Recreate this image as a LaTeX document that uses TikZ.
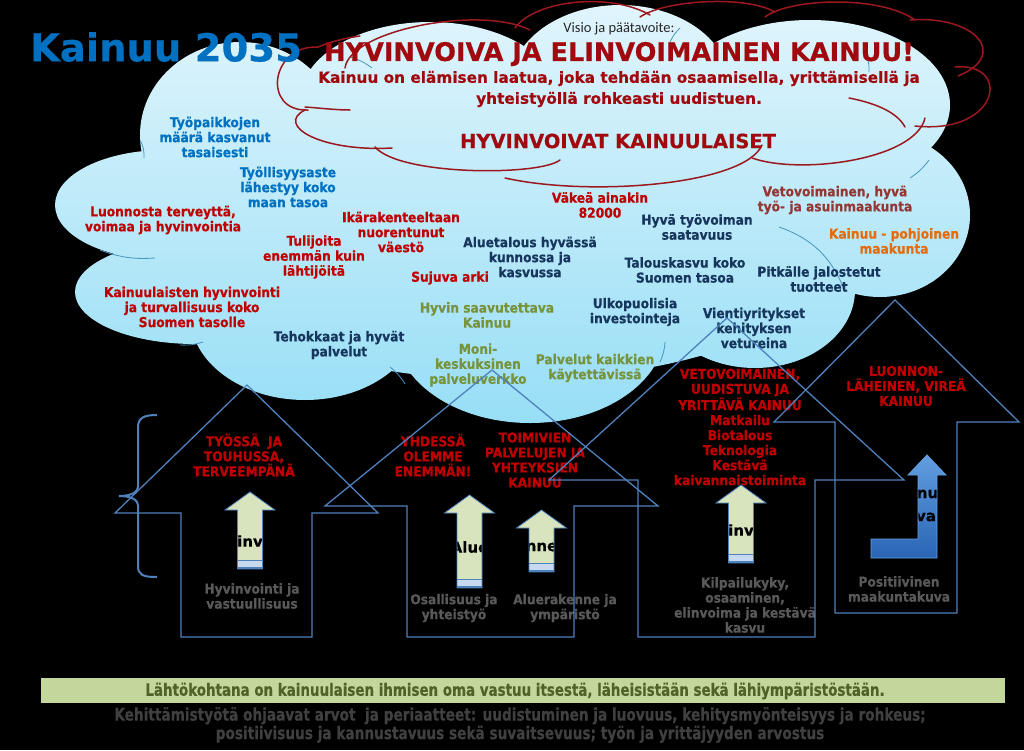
\documentclass[tikz,border=0pt]{standalone}
\usepackage{fontspec}
\setmainfont{DejaVu Sans}[BoldFeatures={FakeBold=0.5}]
\newfontfamily\visiofont{Carlito}
\newfontfamily\boxfont{DejaVu Sans}[FakeStretch=0.9, BoldFeatures={FakeBold=0.5}]
\newfontfamily\narrowfont{DejaVu Sans}[FakeStretch=0.79, BoldFeatures={FakeBold=0.4}]

\definecolor{kblue}{RGB}{0,112,192}
\definecolor{kred}{RGB}{192,0,0}
\definecolor{knavy}{RGB}{23,54,93}
\definecolor{kolive}{RGB}{119,147,60}
\definecolor{kbrown}{RGB}{149,55,53}
\definecolor{korange}{RGB}{228,108,10}
\definecolor{kgray}{RGB}{89,89,89}
\definecolor{kdarkgray}{RGB}{64,64,64}
\definecolor{bubred}{RGB}{155,25,30}
\definecolor{titlered}{RGB}{160,10,15}
\definecolor{cloudtop}{RGB}{225,245,252}
\definecolor{cloudbot}{RGB}{150,222,246}
\definecolor{cloudarc}{RGB}{70,150,190}
\definecolor{hblue}{RGB}{79,129,189}
\definecolor{khaki}{RGB}{215,228,189}
\definecolor{stripepale}{RGB}{198,217,241}
\definecolor{barfill}{RGB}{195,214,155}
\definecolor{bartext}{RGB}{79,98,40}
\definecolor{bluetop}{RGB}{100,160,225}
\definecolor{bluebot}{RGB}{40,100,180}

\newcommand{\txtfont}{\boxfont\bfseries\fontsize{13.6}{15}\selectfont}

\tikzset{
	titletxt/.style={font=\bfseries\fontsize{38.5}{40}\selectfont, text=kblue},
	visiotxt/.style={font=\visiofont\fontsize{14.5}{16}\selectfont, text=black!85},
	headtxt/.style={font=\bfseries\fontsize{25.6}{28}\selectfont, text=titlered},
	subtxt/.style={font=\bfseries\fontsize{15.3}{21}\selectfont, text=titlered},
	midtxt/.style={font=\bfseries\fontsize{19.5}{22}\selectfont, text=titlered},
	ctxt/.style={font=\txtfont},
	captxt/.style={font=\txtfont, text=kred},
	graytxt/.style={font=\txtfont, text=kgray},
	fragtxt/.style={font=\bfseries\fontsize{15}{17}\selectfont, text=black},
	bartxt/.style={font=\narrowfont\bfseries\fontsize{17}{17}\selectfont, text=bartext},
	valtxt/.style={font=\narrowfont\bfseries\fontsize{17.3}{18.5}\selectfont, text=kdarkgray},
	innerarc/.style={draw=cloudarc, line width=0.8pt},
	bubblearc/.style={draw=bubred, line width=1.5pt, line cap=round},
	housepath/.style={draw=hblue, line width=1.3pt},
	arrowedge/.style={draw=hblue, line width=0.8pt},
	bracketline/.style={draw=hblue, line width=2pt}
}

% up arrow: name, x, tip y, bottom y, text y, text
\newcommand{\uparr}[6]{%
	\begin{scope}
		\clip (#2,#3) -- ++(25,18) -- ++(-12.5,0) -- (#2+12.5,#4) -- (#2-12.5,#4)
			-- (#2-12.5,#3+18) -- ++(-12.5,0) -- cycle;
		\fill[khaki] (#2-26,#3) rectangle (#2+26,#4);
		\fill[hblue] (#2-13,#4-9.5) rectangle (#2+13,#4);
		\fill[stripepale] (#2-13,#4-8) rectangle (#2+13,#4-2.5);
		\node[fragtxt] (#1) at (#2,#5) {#6};
	\end{scope}
	\draw[arrowedge] (#2,#3) -- ++(25,18) -- ++(-12.5,0) -- (#2+12.5,#4) -- (#2-12.5,#4)
		-- (#2-12.5,#3+18) -- ++(-12.5,0) -- cycle;
}

\begin{document}
\begin{tikzpicture}[x=1pt, y=-1pt, every node/.style={align=center, inner sep=0pt}]
	\useasboundingbox (0,0) rectangle (1024,750);
	\fill[black] (0,0) rectangle (1024,750);

	% big cloud
	\begin{scope}
		\clip (240,135) ellipse [x radius=100pt, y radius=93pt]
			(165,205) ellipse [x radius=110pt, y radius=55pt]
			(195,292) ellipse [x radius=120pt, y radius=52pt]
			(305,315) ellipse [x radius=115pt, y radius=85pt]
			(530,330) ellipse [x radius=135pt, y radius=93pt]
			(755,290) ellipse [x radius=100pt, y radius=78pt]
			(880,215) ellipse [x radius=90pt, y radius=82pt]
			(810,105) ellipse [x radius=140pt, y radius=85pt]
			(620,85) ellipse [x radius=110pt, y radius=80pt]
			(430,100) ellipse [x radius=130pt, y radius=78pt]
			(510,230) ellipse [x radius=350pt, y radius=150pt];
		\shade[top color=cloudtop, bottom color=cloudbot] (50,0) rectangle (975,430);
	\end{scope}
	\draw[innerarc] (140,140) to[bend left=15] (144,158);
	\draw[innerarc] (100,250) to[bend right=12] (155,258);
	\draw[innerarc] (180,345) to[bend right=10] (203,342);
	\draw[innerarc] (390,367) to[bend left=10] (405,384);
	\draw[innerarc] (665,342) to[bend left=10] (660,362);
	\draw[innerarc] (779,227) to[bend left=25] (845,292);
	\draw[innerarc] (910,178) to[bend right=10] (929,160);
	\draw[innerarc] (350,57) to[bend left=10] (372,68);
	\draw[innerarc] (867,57) to[bend left=10] (869,72);
	\draw[innerarc] (670,42) to[bend left=10] (680,28);

	% vision bubble
	\draw[bubblearc] (308,110) .. controls (262,112) and (270,45) .. (318,47);
	\draw[bubblearc] (345,68) .. controls (350,30) and (480,5) .. (530,30);
	\draw[bubblearc] (318,47) .. controls (330,42) and (345,38) .. (360,36);
	\draw[bubblearc] (515,28) .. controls (535,0) and (610,-8) .. (650,15);
	\draw[bubblearc] (640,17) .. controls (665,0) and (745,-5) .. (775,12);
	\draw[bubblearc] (765,17) .. controls (790,-2) and (880,-5) .. (915,20);
	\draw[bubblearc] (910,20) .. controls (975,15) and (1010,55) .. (958,76);
	\draw[bubblearc] (955,67) .. controls (1012,62) and (1000,135) .. (915,126);
	\draw[bubblearc] (849,98) .. controls (880,104) and (898,114) .. (905,127);
	\draw[bubblearc] (925,118) .. controls (915,160) and (800,175) .. (752,158);
	\draw[bubblearc] (762,145) .. controls (745,185) and (590,197) .. (505,178);
	\draw[bubblearc] (560,160) .. controls (540,176) and (400,176) .. (375,147);
	\draw[bubblearc] (392,148) .. controls (320,152) and (275,125) .. (305,110);
	\draw[bubblearc] (305,107) .. controls (320,108) and (335,110) .. (350,110);

	% title and vision
	\node[titletxt] (kainuu) at (166,47) {Kainuu 2035};
	\node[visiotxt] (visio) at (619,29) {Visio ja päätavoite:};
	\node[headtxt] (hyvinvoiva) at (619,54) {HYVINVOIVA JA ELINVOIMAINEN KAINUU!};
	\node[subtxt] (laatu) at (619,89) {Kainuu on elämisen laatua, joka tehdään osaamisella, yrittämisellä ja\\yhteistyöllä rohkeasti uudistuen.};
	\node[midtxt] (kainuulaiset) at (618,141) {HYVINVOIVAT KAINUULAISET};

	% goals in the cloud
	\node[ctxt, text=kblue] (tyopaikat) at (215,137) {Työpaikkojen\\määrä kasvanut\\tasaisesti};
	\node[ctxt, text=kblue] (tyollisyys) at (288,187) {Työllisyysaste\\lähestyy koko\\maan tasoa};
	\node[ctxt, text=kred] (luonto) at (163,220) {Luonnosta terveyttä,\\voimaa ja hyvinvointia};
	\node[ctxt, text=kred] (ikarakenne) at (401,232) {Ikärakenteeltaan\\nuorentunut\\väestö};
	\node[ctxt, text=kred] (tulijat) at (314,257) {Tulijoita\\enemmän kuin\\lähtijöitä};
	\node[ctxt, text=kred] (arki) at (450,278) {Sujuva arki};
	\node[ctxt, text=kred] (turvallisuus) at (192,307) {Kainuulaisten hyvinvointi\\ja turvallisuus koko\\Suomen tasolle};
	\node[ctxt, text=knavy] (palvelut) at (339,345) {Tehokkaat ja hyvät\\palvelut};
	\node[ctxt, text=knavy] (aluetalous) at (530,257) {Aluetalous hyvässä\\kunnossa ja\\kasvussa};
	\node[ctxt, text=kolive] (saavutettava) at (487,315) {Hyvin saavutettava\\Kainuu};
	\node[ctxt, text=kolive] (verkko) at (478,365) {Moni-\\keskuksinen\\palveluverkko};
	\node[ctxt, text=kolive] (kaikille) at (595,368) {Palvelut kaikkien\\käytettävissä};
	\node[ctxt, text=kred] (vakea) at (600,205) {Väkeä ainakin\\82000};
	\node[ctxt, text=knavy] (tyovoima) at (697,227) {Hyvä työvoiman\\saatavuus};
	\node[ctxt, text=knavy] (talouskasvu) at (685,270) {Talouskasvu koko\\Suomen tasoa};
	\node[ctxt, text=knavy] (investoinnit) at (635,312) {Ulkopuolisia\\investointeja};
	\node[ctxt, text=knavy] (vienti) at (754,328) {Vientiyritykset\\kehityksen\\vetureina};
	\node[ctxt, text=knavy] (jalostus) at (819,279) {Pitkälle jalostetut\\tuotteet};
	\node[ctxt, text=kbrown] (vetovoima) at (835,200) {Vetovoimainen, hyvä\\työ- ja asuinmaakunta};
	\node[ctxt, text=korange] (pohjoinen) at (894,241) {Kainuu - pohjoinen\\maakunta};

	% house captions
	\node[captxt] (tyossa) at (244,455) {TYÖSSÄ~ JA\\TOUHUSSA,\\TERVEEMPÄNÄ};
	\node[captxt] (yhdessa) at (433,455) {YHDESSÄ\\OLEMME\\ENEMMÄN!};
	\node[captxt] (toimivat) at (535,460) {TOIMIVIEN\\PALVELUJEN JA\\YHTEYKSIEN\\KAINUU};
	\node[captxt] (yrittava) at (740,427) {VETOVOIMAINEN,\\UUDISTUVA JA\\YRITTÄVÄ KAINUU\\Matkailu\\Biotalous\\Teknologia\\Kestävä\\kaivannaistoiminta};
	\node[captxt] (luonnon) at (906,386) {LUONNON-\\LÄHEINEN, VIREÄ\\KAINUU};

	\node[graytxt] (vastuu) at (252,596) {Hyvinvointi ja\\vastuullisuus};
	\node[graytxt] (osallisuus) at (454,608) {Osallisuus ja\\yhteistyö};
	\node[graytxt] (rakenne) at (565,608) {Aluerakenne ja\\ympäristö};
	\node[graytxt] (kilpailu) at (745,605) {Kilpailukyky,\\osaaminen,\\elinvoima ja kestävä\\kasvu};
	\node[graytxt] (kuva) at (899,589) {Positiivinen\\maakuntakuva};

	% houses
	\draw[housepath] (181,637) -- (181,513) -- (115,513) -- (247,385) -- (378,513) -- (312,513) -- (312,637) -- cycle;
	\draw[housepath] (407,637) -- (407,506) -- (325,506) -- (492,370) -- (658,506) -- (574,506) -- (574,637) -- cycle;
	\draw[housepath] (638,637) -- (638,480) -- (549,480) -- (727,318) -- (904,480) -- (815,480) -- (815,637) -- cycle;
	\draw[housepath] (835,613) -- (835,422) -- (774,422) -- (895,300) -- (1019,422) -- (957,422) -- (957,613) -- cycle;

	% arrows
	\uparr{hyvin}{250}{492}{569}{541}{inv}
	\uparr{alue}{469.5}{495}{588}{547}{Alue}
	\uparr{rakenne}{541.5}{510}{572}{547}{nne}
	\uparr{elin}{741}{485}{563}{530}{inv}
	\begin{scope}
		\clip (927,455) -- (946,475) -- (937,475) -- (937,558) -- (871,558) -- (871,539)
			-- (918,539) -- (918,475) -- (908,475) -- cycle;
		\shade[top color=bluetop, bottom color=bluebot] (865,450) rectangle (950,560);
		\node[fragtxt] (imagea) at (927.5,494) {nu};
		\node[fragtxt] (imageb) at (926,517) {va};
	\end{scope}
	\draw[arrowedge, draw=bluetop] (927,455) -- (946,475) -- (937,475) -- (937,558) -- (871,558)
		-- (871,539) -- (918,539) -- (918,475) -- (908,475) -- cycle;

	% bracket
	\draw[bracketline] (157,415) .. controls (143,415) and (138,418) .. (138,428) -- (138,486)
		.. controls (138,493) and (130,496) .. (119,496) .. controls (130,496) and (138,499) .. (138,506)
		-- (138,566) .. controls (138,575) and (143,577) .. (157,577);

	% base and values
	\fill[barfill] (41,678) rectangle (1005,703);
	\node[bartxt] (lahto) at (515,691) {Lähtökohtana on kainuulaisen ihmisen oma vastuu itsestä, läheisistään sekä lähiympäristöstään.};
	\node[valtxt] (arvot) at (520,725) {Kehittämistyötä ohjaavat arvot~ ja periaatteet: uudistuminen ja luovuus, kehitysmyönteisyys ja rohkeus;\\positiivisuus ja kannustavuus sekä suvaitsevuus; työn ja yrittäjyyden arvostus};
\end{tikzpicture}
\end{document}
